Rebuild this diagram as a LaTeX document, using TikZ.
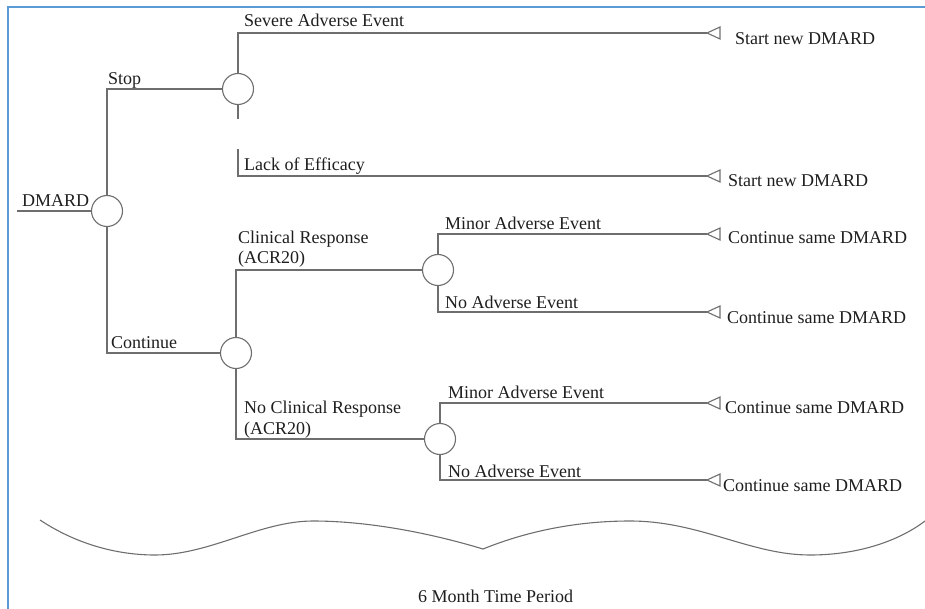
\documentclass[tikz,border=0pt]{standalone}
\usepackage{fontspec}
\setmainfont{Liberation Serif}
\usetikzlibrary{positioning}
\definecolor{framecol}{HTML}{5B9BD5}
\definecolor{linecol}{HTML}{6E6E6E}
\definecolor{textcol}{HTML}{1E1E1E}
\begin{document}
\begin{tikzpicture}[x=1pt, y=-1pt,
    branch/.style={draw=linecol, line width=1.1pt},
    chance/.style={circle, draw=linecol, line width=1.1pt, minimum size=31pt, inner sep=0pt},
    outcome/.style={font=\fontsize{18}{21}\selectfont, text=textcol, inner sep=0pt, anchor=base west}]
   \useasboundingbox (0,0) rectangle (925,609);
   \draw[framecol, line width=2pt] (7.5,609) -- (7.5,7) -- (925,7);

   % chance nodes
   \node[chance] (root) at (107,211) {};
   \node[chance] (stop) at (238,89) {};
   \node[chance] (cont) at (236,353) {};
   \node[chance] (resp) at (438,270) {};
   \node[chance] (noresp) at (440,439) {};

   % free ends
   \coordinate (start) at (17,211);
   \coordinate (lackbend) at (238,149);
   \foreach \name/\y in {t1/33, t2/176, t3/234, t4/312, t5/403, t6/480}
      \coordinate (\name) at (707,\y);

   \begin{scope}[every path/.style={branch}]
    \draw (start) -- (root);
    \draw (root.north) |- (stop);
    \draw (root.south) |- (cont);
    \draw (stop.north) |- (t1);
    \draw (stop.south) -- ++(0,14);
    \draw (lackbend) |- (t2);
    \draw (cont.north) |- (resp);
    \draw (cont.south) |- (noresp);
    \draw (resp.north) |- (t3);
    \draw (resp.south) |- (t4);
    \draw (noresp.north) |- (t5);
    \draw (noresp.south) |- (t6);
    \foreach \name in {t1,t2,t3,t4,t5,t6}
       \draw (\name) -- ++(13,-6) -- ++(0,12) -- cycle;
   \end{scope}

   % branch labels
   \begin{scope}[every node/.style={font=\fontsize{18}{20.5}\selectfont, text=textcol, inner sep=0pt, anchor=base west, align=left}]
    \node (lroot) at (22,207) {DMARD};
    \node (lstop) at (108,85) {Stop};
    \node (lsevere) at (244,27) {Severe Adverse Event};
    \node (llack) at (244,171) {Lack of Efficacy};
    \node (lresp) at (238,264) {Clinical Response\\(ACR20)};
    \node (lcont) at (111,348) {Continue};
    \node (lnoresp) at (244,434) {No Clinical Response\\(ACR20)};
    \node (lminor1) at (445,230) {Minor Adverse Event};
    \node (lnone1) at (445,308) {No Adverse Event};
    \node (lminor2) at (448,398) {Minor Adverse Event};
    \node (lnone2) at (448,477) {No Adverse Event};
    \node (lperiod) at (418,602) {6 Month Time Period};
   \end{scope}

   % outcomes
   \foreach \i/\dx/\dy/\txt in {1/28/12/Start new DMARD, 2/21/11/Start new DMARD,
        3/21/10/Continue same DMARD, 4/20/11/Continue same DMARD,
        5/18/10/Continue same DMARD, 6/16/11/Continue same DMARD}
      \node[outcome] (o\i) at ([xshift=\dx pt, yshift=-\dy pt]t\i) {\txt};

   % time span
   \draw[branch] (40,520) .. controls (70,540) and (110,555) .. (155,555)
      .. controls (210,555) and (260,521) .. (313,521)
      .. controls (360,521) and (420,530) .. (483,549)
      .. controls (530,530) and (580,521) .. (630,521)
      .. controls (700,521) and (750,555) .. (810,555)
      .. controls (860,555) and (900,540) .. (925,521);
\end{tikzpicture}
\end{document}
